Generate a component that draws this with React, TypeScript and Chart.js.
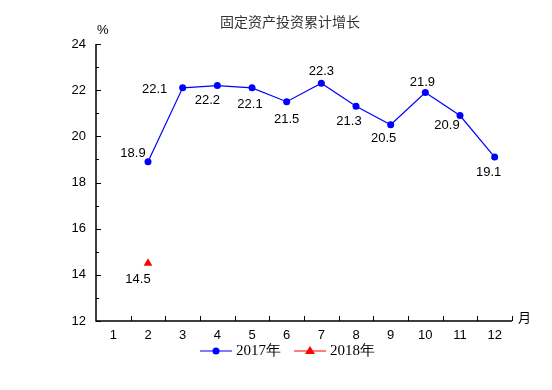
import React, { useEffect, useRef } from "react";
import { Chart, registerables } from "chart.js";

Chart.register(...registerables);

const months = ["1", "2", "3", "4", "5", "6", "7", "8", "9", "10", "11", "12"];
const values2017: (number | null)[] = [null, 18.9, 22.1, 22.2, 22.1, 21.5, 22.3, 21.3, 20.5, 21.9, 20.9, 19.1];
const values2018: (number | null)[] = [null, 14.5, null, null, null, null, null, null, null, null, null, null];
const yTicks = [12, 14, 16, 18, 20, 22, 24];
const title = "固定资产投资累计增长";
const seriesNames = ["2017年", "2018年"];

// label offsets (style) relative to each point
const offs2017: [number, number][] = [
  [0, 0], [-15, -8], [-28, 2], [-10, 15], [-2, 17], [0, 18], [0, -12], [-7, 15], [-7, 14], [-3, -10], [-13, 10], [-6, 15],
];
const offs2018: [number, number][] = [[0, 0], [-10, 16]];

const overlay = {
  id: "overlay",
  afterDraw(chart: any) {
    const ctx = chart.ctx;
    const { left, right, top, bottom } = chart.chartArea;
    const xs = chart.scales.x;
    const ys = chart.scales.y;
    ctx.save();
    // axes
    ctx.strokeStyle = "#000";
    ctx.lineWidth = 1.5;
    ctx.beginPath();
    ctx.moveTo(left, top);
    ctx.lineTo(left, bottom);
    ctx.lineTo(right, bottom);
    ctx.stroke();
    ctx.lineWidth = 1;
    // y ticks (inward)
    for (let v = 12; v <= 24; v += 1) {
      const y = Math.round(ys.getPixelForValue(v)) + 0.5;
      const len = v % 2 === 0 ? 5 : 3;
      ctx.beginPath();
      ctx.moveTo(left, y);
      ctx.lineTo(left + len, y);
      ctx.stroke();
    }
    // x ticks at category boundaries
    for (let i = 1; i <= months.length; i++) {
      const x = Math.round((xs.getPixelForValue(i - 1) + xs.getPixelForValue(i)) / 2) + 0.5;
      ctx.beginPath();
      ctx.moveTo(x, bottom);
      ctx.lineTo(x, bottom - 5);
      ctx.stroke();
    }
    // data labels
    ctx.fillStyle = "#000";
    ctx.font = "13px 'Liberation Sans', Arial, sans-serif";
    ctx.textAlign = "center";
    ctx.textBaseline = "middle";
    values2017.forEach((v, i) => {
      if (v == null) return;
      const x = xs.getPixelForValue(i) + offs2017[i][0];
      const y = ys.getPixelForValue(v) + offs2017[i][1];
      ctx.fillText(v.toFixed(1), x, y);
    });
    values2018.forEach((v, i) => {
      if (v == null) return;
      const x = xs.getPixelForValue(i) + offs2018[i][0];
      const y = ys.getPixelForValue(v) + offs2018[i][1];
      ctx.fillText(v.toFixed(1), x, y);
    });
    // unit labels
    ctx.font = "13px 'Liberation Sans', Arial, sans-serif";
    ctx.textAlign = "left";
    ctx.fillText("%", left + 1, top - 14);
    ctx.font = "13px 'Noto Sans CJK SC', sans-serif";
    ctx.fillText("月", right + 6, bottom - 4);
    // title
    ctx.fillStyle = "#333";
    ctx.font = "14px 'Noto Sans CJK SC', sans-serif";
    ctx.textAlign = "center";
    ctx.fillText(title, 290, 22);
    // legend
    const ly = 351;
    ctx.lineWidth = 1.5;
    ctx.strokeStyle = "#5050ff";
    ctx.beginPath();
    ctx.moveTo(200, ly);
    ctx.lineTo(232, ly);
    ctx.stroke();
    ctx.fillStyle = "#0000ff";
    ctx.beginPath();
    ctx.arc(216, ly, 3.5, 0, Math.PI * 2);
    ctx.fill();
    ctx.strokeStyle = "#ff5050";
    ctx.beginPath();
    ctx.moveTo(294, ly);
    ctx.lineTo(326, ly);
    ctx.stroke();
    ctx.fillStyle = "#ff0000";
    ctx.beginPath();
    ctx.moveTo(310, ly - 5);
    ctx.lineTo(315, ly + 3);
    ctx.lineTo(305, ly + 3);
    ctx.closePath();
    ctx.fill();
    ctx.fillStyle = "#000";
    ctx.font = "15px 'Liberation Serif', 'Times New Roman', serif";
    ctx.textAlign = "left";
    ctx.fillText(seriesNames[0], 236, ly);
    ctx.fillText(seriesNames[1], 330, ly);
    ctx.restore();
  },
};

export default function App() {
  const ref = useRef<HTMLCanvasElement | null>(null);
  useEffect(() => {
    document.body.style.margin = "0";
    const chart = new Chart(ref.current as HTMLCanvasElement, {
      type: "line",
      data: {
        labels: months,
        datasets: [
          {
            label: seriesNames[0],
            data: values2017,
            borderColor: "#0000ff",
            backgroundColor: "#0000ff",
            borderWidth: 1.2,
            pointRadius: 3.5,
            pointBorderWidth: 0,
            pointStyle: "circle",
            spanGaps: false,
          },
          {
            label: seriesNames[1],
            data: values2018,
            borderColor: "#ff0000",
            backgroundColor: "#ff0000",
            borderWidth: 1.2,
            pointRadius: 5,
            pointBorderWidth: 0,
            pointStyle: "triangle",
          },
        ],
      },
      options: {
        responsive: false,
        animation: false,
        layout: { padding: { left: 0, right: 40, top: 44, bottom: 0 } },
        plugins: { legend: { display: false }, title: { display: false }, tooltip: { enabled: false } },
        scales: {
          x: {
            offset: true,
            grid: { display: false, drawTicks: false },
            border: { display: false },
            ticks: { color: "#000", padding: 7, font: { size: 13, family: "'Liberation Sans', Arial, sans-serif" }, maxRotation: 0 },
            afterFit: (s: any) => { s.height = 69; },
          },
          y: {
            min: 12,
            max: 24,
            afterBuildTicks: (s: any) => { s.ticks = yTicks.map((v) => ({ value: v })); },
            grid: { display: false, drawTicks: false },
            border: { display: false },
            ticks: { color: "#000", padding: 10, font: { size: 13, family: "'Liberation Sans', Arial, sans-serif" } },
            afterFit: (s: any) => { s.width = 96; },
          },
        },
      },
      plugins: [overlay],
    });
    return () => chart.destroy();
  }, []);
  return (
    <div style={{ position: "absolute", left: 0, top: 0, width: 552, height: 390, background: "#fff" }}>
      <canvas ref={ref} width={552} height={390} />
    </div>
  );
}
